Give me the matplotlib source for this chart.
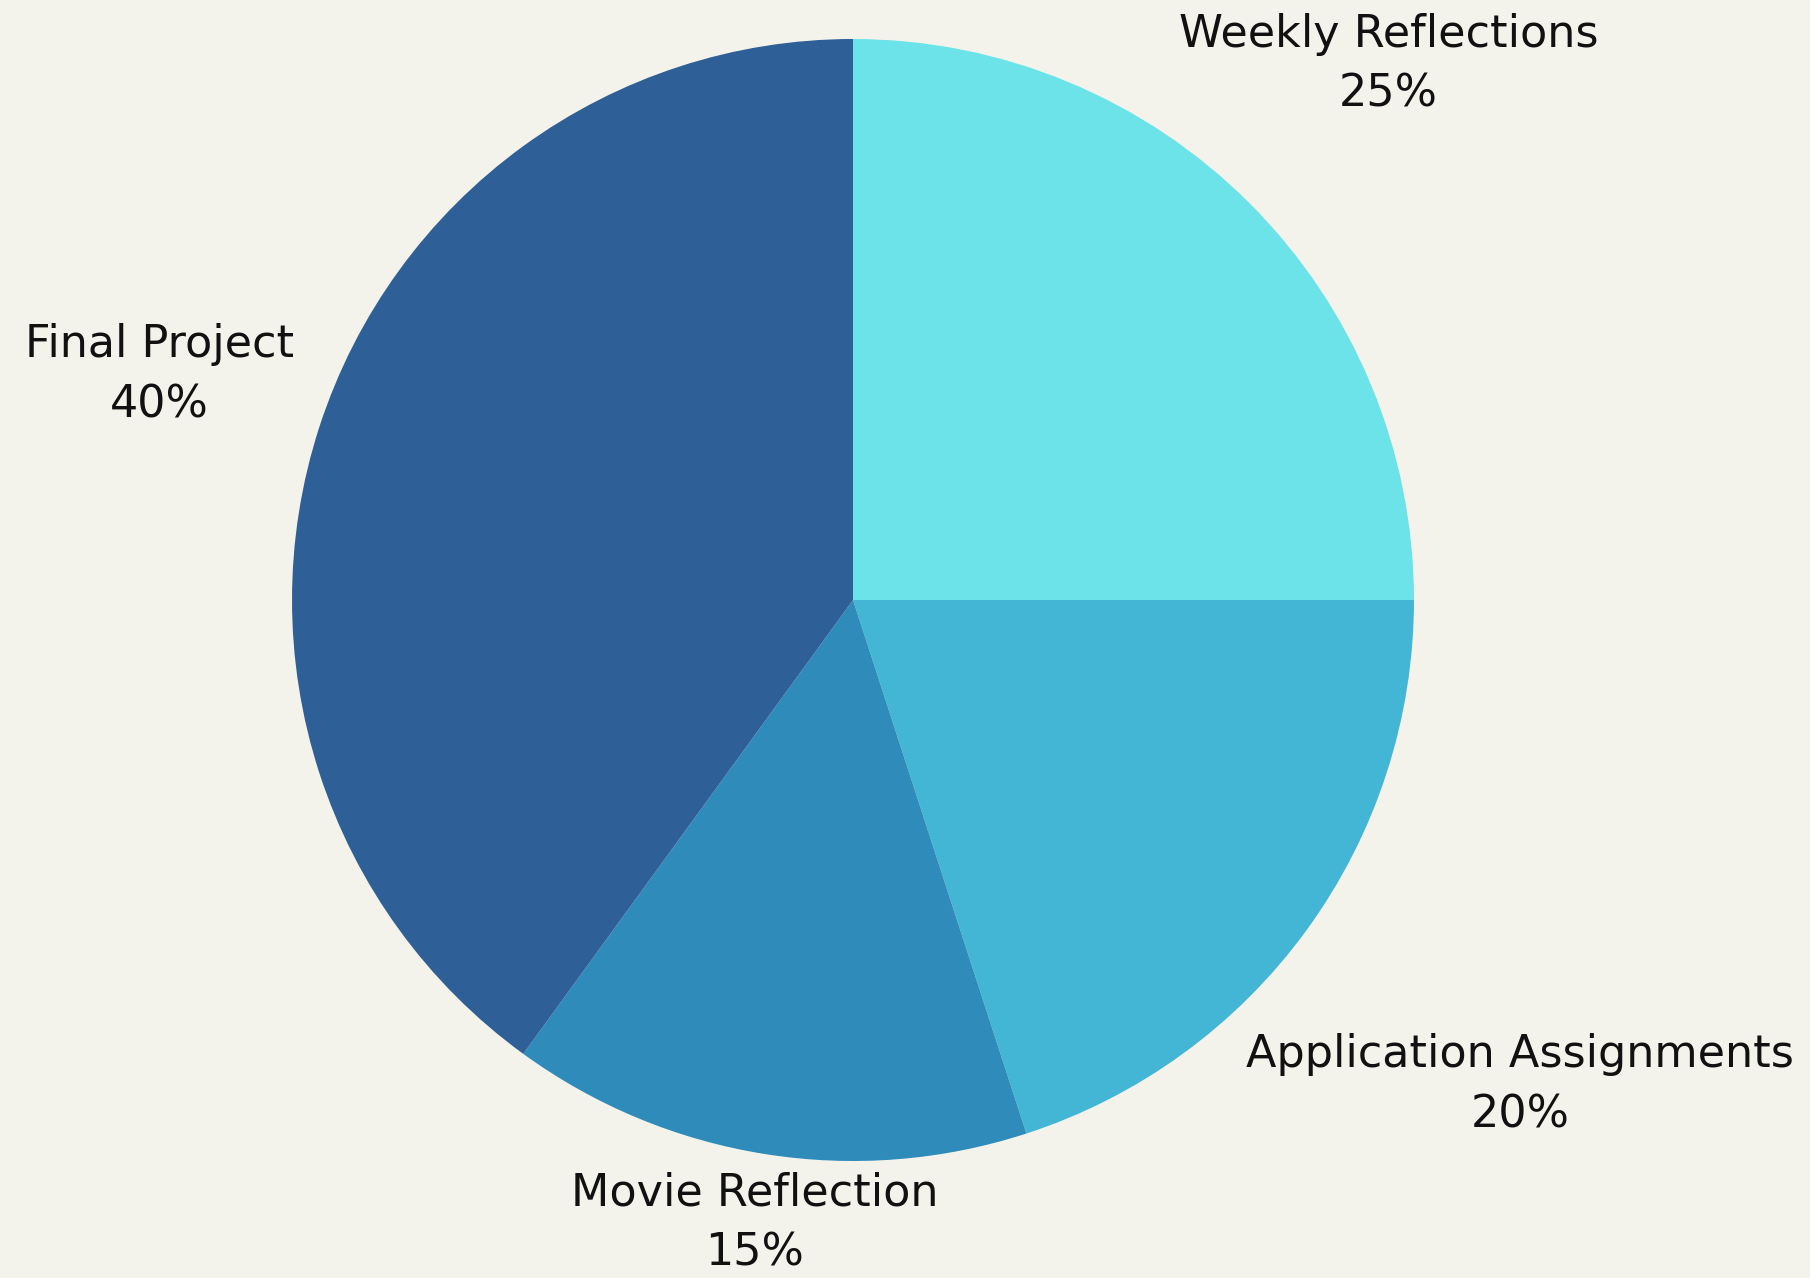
import numpy as np
from matplotlib import pyplot as plt

labels = ['Weekly Reflections', 'Application Assignments', 'Movie Reflection', 'Final Project']
shares = [25, 20, 15, 40]
colors = ['#6be3e8', '#43b6d6', '#2e8bba', '#2e5f96']
label_dist = [1.35, 1.47, 1.125, 1.30]

BG = '#f4f3eb'

fig = plt.figure(figsize=(18.10, 12.78), dpi=100, facecolor=BG)
# axes box so the pie sits at the same spot as the reference
ax = fig.add_axes([(853 - 561) / 1810, 1 - (600 + 561) / 1278, 1122 / 1810, 1122 / 1278])
ax.set_facecolor(BG)

wedges, _ = ax.pie(shares, colors=colors, startangle=90, counterclock=False,
                   radius=1.0, wedgeprops=dict(linewidth=0))
ax.set_xlim(-1, 1)
ax.set_ylim(-1, 1)
ax.set_aspect('equal')

for w, name, val, d in zip(wedges, labels, shares, label_dist):
    mid = np.deg2rad((w.theta1 + w.theta2) / 2)
    x, y = d * np.cos(mid), d * np.sin(mid)
    ax.text(x, y, f'{name}\n{val}%', ha='center', va='center',
            fontsize=32, family=['DejaVu Sans'], color='#111111',
            linespacing=1.5, clip_on=False)

fig.savefig('out.png', dpi=100, facecolor=BG)
